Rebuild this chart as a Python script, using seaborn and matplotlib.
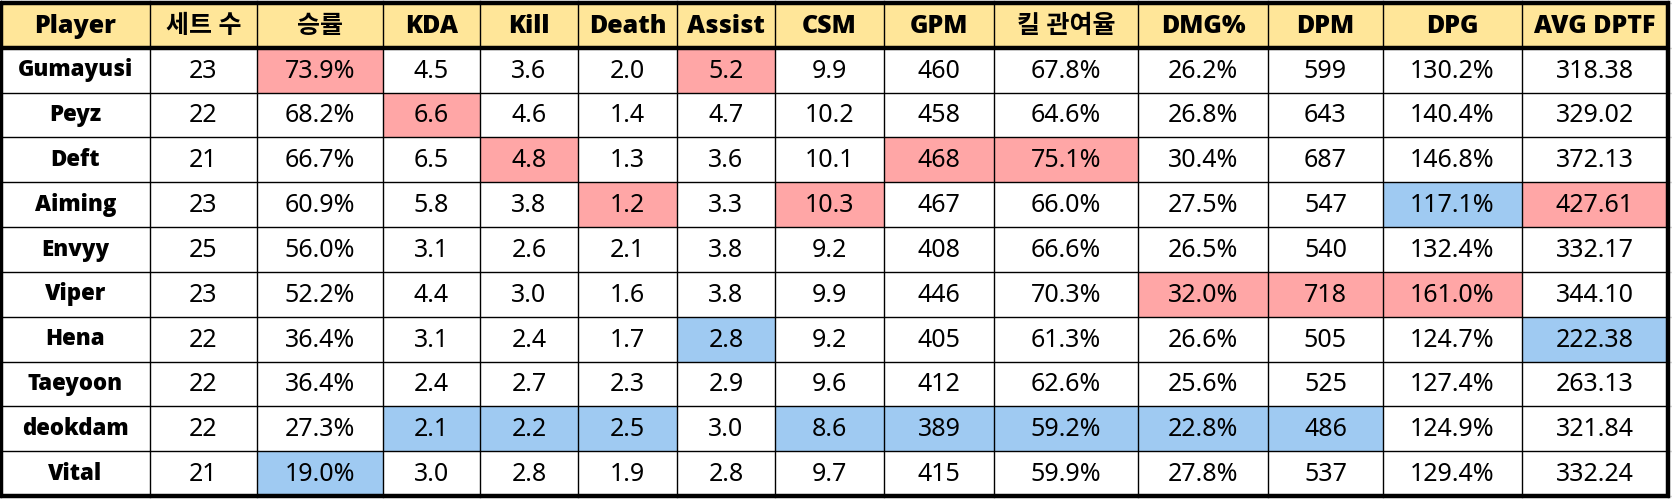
import numpy as np
import pandas as pd
import matplotlib
matplotlib.use('Agg')
import matplotlib.pyplot as plt
from matplotlib.colors import ListedColormap
import seaborn as sns

# ---- table data ----
columns = ['Player', '세트 수', '승률', 'KDA', 'Kill', 'Death', 'Assist', 'CSM',
           'GPM', '킬 관여율', 'DMG%', 'DPM', 'DPG', 'AVG DPTF']
players = ['Gumayusi', 'Peyz', 'Deft', 'Aiming', 'Envyy', 'Viper', 'Hena',
           'Taeyoon', 'deokdam', 'Vital']
sets = [23, 22, 21, 23, 25, 23, 22, 22, 22, 21]
win_rate = [73.9, 68.2, 66.7, 60.9, 56.0, 52.2, 36.4, 36.4, 27.3, 19.0]
kda = [4.5, 6.6, 6.5, 5.8, 3.1, 4.4, 3.1, 2.4, 2.1, 3.0]
kill = [3.6, 4.6, 4.8, 3.8, 2.6, 3.0, 2.4, 2.7, 2.2, 2.8]
death = [2.0, 1.4, 1.3, 1.2, 2.1, 1.6, 1.7, 2.3, 2.5, 1.9]
assist = [5.2, 4.7, 3.6, 3.3, 3.8, 3.8, 2.8, 2.9, 3.0, 2.8]
csm = [9.9, 10.2, 10.1, 10.3, 9.2, 9.9, 9.2, 9.6, 8.6, 9.7]
gpm = [460, 458, 468, 467, 408, 446, 405, 412, 389, 415]
kill_part = [67.8, 64.6, 75.1, 66.0, 66.6, 70.3, 61.3, 62.6, 59.2, 59.9]
dmg_share = [26.2, 26.8, 30.4, 27.5, 26.5, 32.0, 26.6, 25.6, 22.8, 27.8]
dpm = [599, 643, 687, 547, 540, 718, 505, 525, 486, 537]
dpg = [130.2, 140.4, 146.8, 117.1, 132.4, 161.0, 124.7, 127.4, 124.9, 129.4]
avg_dptf = [318.38, 329.02, 372.13, 427.61, 332.17, 344.10, 222.38, 263.13,
            321.84, 332.24]

# highlighted cells: (player, column)
best_cells = [('Gumayusi', '승률'), ('Gumayusi', 'Assist'), ('Peyz', 'KDA'),
              ('Deft', 'Kill'), ('Deft', 'GPM'), ('Deft', '킬 관여율'),
              ('Aiming', 'Death'), ('Aiming', 'CSM'), ('Aiming', 'AVG DPTF'),
              ('Viper', 'DMG%'), ('Viper', 'DPM'), ('Viper', 'DPG')]
worst_cells = [('Aiming', 'DPG'), ('Hena', 'Assist'), ('Hena', 'AVG DPTF'),
               ('deokdam', 'KDA'), ('deokdam', 'Kill'), ('deokdam', 'Death'),
               ('deokdam', 'CSM'), ('deokdam', 'GPM'), ('deokdam', '킬 관여율'),
               ('deokdam', 'DMG%'), ('deokdam', 'DPM'), ('Vital', '승률')]

# ---- build display table ----
df = pd.DataFrame({
    'Player': players,
    '세트 수': [f'{v}' for v in sets],
    '승률': [f'{v:.1f}%' for v in win_rate],
    'KDA': [f'{v:.1f}' for v in kda],
    'Kill': [f'{v:.1f}' for v in kill],
    'Death': [f'{v:.1f}' for v in death],
    'Assist': [f'{v:.1f}' for v in assist],
    'CSM': [f'{v:.1f}' for v in csm],
    'GPM': [f'{v}' for v in gpm],
    '킬 관여율': [f'{v:.1f}%' for v in kill_part],
    'DMG%': [f'{v:.1f}%' for v in dmg_share],
    'DPM': [f'{v}' for v in dpm],
    'DPG': [f'{v:.1f}%' for v in dpg],
    'AVG DPTF': [f'{v:.2f}' for v in avg_dptf],
})

# colour codes: 0 white, 1 pink (best), 2 blue (worst), 3 header yellow
codes = np.zeros((len(players) + 1, len(columns)), dtype=int)
codes[0, :] = 3
for p, c in best_cells:
    codes[players.index(p) + 1, columns.index(c)] = 1
for p, c in worst_cells:
    codes[players.index(p) + 1, columns.index(c)] = 2

# column widths in pixels (layout only)
col_widths = [149, 107, 126, 97, 98, 99, 98, 109, 110, 144, 130, 115, 139, 146]
grid = np.repeat(codes, col_widths, axis=1)
edges = np.concatenate([[0], np.cumsum(col_widths)])
centers = (edges[:-1] + edges[1:]) / 2

sns.set_style('white')
plt.rcParams['font.family'] = ['Noto Sans', 'Noto Sans CJK KR', 'DejaVu Sans']
bold_family = ['Open Sans', 'Noto Sans CJK KR', 'DejaVu Sans']

W, H = 1672, 499
fig = plt.figure(figsize=(W / 100, H / 100), dpi=100)
ax = fig.add_axes([1 / W, 1 - 496 / H, 1667 / W, 493 / H])

cmap = ListedColormap(['#FFFFFF', '#FFA6A6', '#9FCAF2', '#FFE699'])
sns.heatmap(grid, ax=ax, cmap=cmap, vmin=-0.5, vmax=3.5, cbar=False,
            xticklabels=False, yticklabels=False, linewidths=0)

nrows = codes.shape[0]
# faint spreadsheet gridlines outside the table
ax.vlines(edges, -0.2, 0, colors='#d4d4d4', lw=1, clip_on=False, zorder=1)
ax.vlines(edges, nrows, nrows + 0.2, colors='#d4d4d4', lw=1, clip_on=False, zorder=1)
ax.hlines(np.arange(nrows + 1), edges[-1], edges[-1] + 6, colors='#d4d4d4', lw=1,
          clip_on=False, zorder=1)

# cell borders
ax.vlines(edges[1:-1], 0, nrows, colors='black', lw=1.0, zorder=3)
ax.hlines(np.arange(2, nrows), 0, edges[-1], colors='black', lw=1.0, zorder=3)
ax.hlines(1, 0, edges[-1], colors='black', lw=3.2, zorder=4)
ax.plot([0, edges[-1], edges[-1], 0, 0], [0, 0, nrows, nrows, 0], color='black',
        lw=3.2, clip_on=False, zorder=5, solid_joinstyle='miter')

# header text
for j, name in enumerate(columns):
    ax.text(centers[j], 0.52, name, ha='center', va='center', fontsize=18,
            fontweight='heavy', family=bold_family, color='black', zorder=6)

# body text
for i in range(len(players)):
    for j, name in enumerate(columns):
        if name == 'Player':
            ax.text(centers[j], i + 1.5, df.iloc[i, j], ha='center', va='center',
                    fontsize=16, fontweight='heavy', family=bold_family,
                    color='black', zorder=6)
        else:
            ax.text(centers[j], i + 1.52, df.iloc[i, j], ha='center', va='center',
                    fontsize=18, color='black', zorder=6)

ax.set_xlim(0, edges[-1])
ax.set_ylim(nrows, 0)
ax.axis('off')

fig.savefig('out.png', dpi=100, facecolor='white')
